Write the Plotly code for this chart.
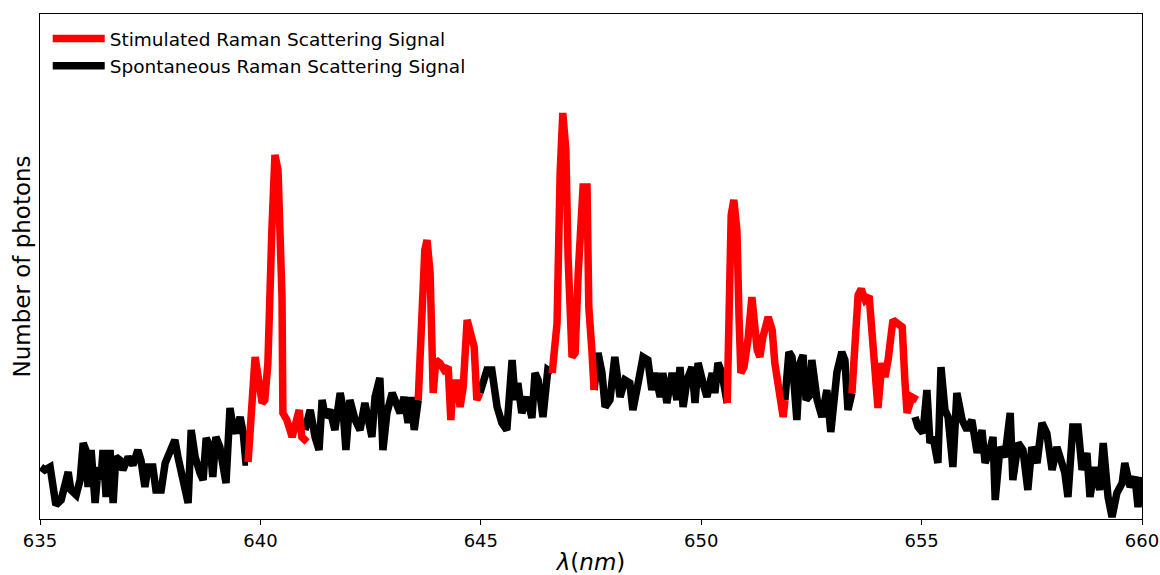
import plotly.graph_objects as go

# ---- data: wavelength (nm) and photon counts (arb. units) ----
# Spontaneous Raman scattering signal (black) segments
spont_1_nm = [635.02, 635.11, 635.23, 635.29, 635.36, 635.48, 635.57, 635.64, 635.70, 635.82,
              635.91, 635.98, 636.04, 636.09, 636.16, 636.25, 636.32, 636.38, 636.43, 636.50,
              636.59, 636.66, 636.72, 636.81, 636.88, 637.00, 637.11, 637.22, 637.29, 637.38,
              637.45, 637.56, 637.63, 637.75, 637.84, 637.95, 638.06, 638.13, 638.24, 638.36,
              638.43, 638.52, 638.63, 638.70, 638.77, 638.86, 638.92, 638.99, 639.08, 639.15,
              639.22, 639.31, 639.38, 639.45, 639.54, 639.61, 639.67, 639.72]
spont_1_cnt = [52, 49, 52, 32, 14, 19, 39, 47, 29, 24,
               39, 76, 69, 32, 69, 16, 52, 39, 69, 22,
               69, 16, 62, 59, 49, 62, 54, 69, 59, 32,
               52, 52, 29, 29, 56, 66, 79, 62, 39, 16,
               89, 62, 46, 39, 81, 72, 42, 82, 72, 49,
               36, 111, 92, 86, 102, 86, 57, 57]

spont_2_nm = [641.01, 641.13, 641.24, 641.33, 641.40, 641.47, 641.58, 641.69, 641.81, 641.87,
              641.94, 642.03, 642.15, 642.26, 642.37, 642.44, 642.53, 642.60, 642.71, 642.78,
              642.87, 642.99, 643.10, 643.17, 643.26, 643.35, 643.42, 643.49, 643.58]
spont_2_cnt = [89, 109, 82, 69, 119, 102, 109, 89, 126, 112,
               69, 119, 99, 89, 116, 102, 82, 122, 141, 69,
               106, 126, 116, 106, 122, 96, 122, 89, 119]

spont_3_nm = [644.98, 645.14, 645.25, 645.37, 645.48, 645.59, 645.71, 645.78, 645.84, 645.93,
              646.05, 646.16, 646.23, 646.30, 646.41, 646.52, 646.62]
spont_3_cnt = [126, 149, 149, 112, 96, 89, 159, 119, 136, 106,
               122, 101, 146, 139, 102, 149, 146]

spont_4_nm = [647.57, 647.66, 647.75, 647.82, 647.93, 648.04, 648.16, 648.27, 648.38, 648.45,
              648.57, 648.68, 648.79, 648.88, 648.95, 649.07, 649.13, 649.22, 649.34, 649.45,
              649.52, 649.59, 649.68, 649.79, 649.86, 649.93, 650.04, 650.13, 650.25, 650.31,
              650.38, 650.47, 650.59]
spont_4_cnt = [129, 166, 146, 112, 119, 162, 122, 139, 136, 109,
               136, 162, 159, 129, 146, 122, 146, 116, 146, 119,
               152, 112, 139, 152, 116, 156, 136, 122, 146, 126,
               156, 146, 116]

spont_5_nm = [651.90, 651.99, 652.06, 652.17, 652.24, 652.31, 652.38, 652.47, 652.51, 652.63,
              652.74, 652.85, 652.94, 653.08, 653.19, 653.26, 653.33, 653.42]
spont_5_cnt = [119, 167, 162, 99, 156, 164, 119, 124, 159, 119,
               102, 129, 87, 147, 167, 159, 109, 126]

spont_6_nm = [654.85, 654.92, 655.03, 655.12, 655.19, 655.26, 655.37, 655.44, 655.53, 655.60,
              655.71, 655.80, 655.92, 656.03, 656.14, 656.26, 656.37, 656.44, 656.55, 656.62,
              656.67, 656.78, 656.89, 657.01, 657.07, 657.19, 657.30, 657.41, 657.50, 657.62,
              657.73, 657.84, 657.96, 658.07, 658.14, 658.25, 658.32, 658.43, 658.55, 658.64,
              658.75, 658.82, 658.93, 659.04, 659.12, 659.23, 659.32, 659.43, 659.55, 659.61,
              659.73, 659.84, 659.91, 659.98]
spont_6_cnt = [102, 92, 86, 129, 76, 82, 56, 152, 109, 102,
               52, 126, 99, 89, 99, 66, 89, 56, 69, 82,
               19, 72, 62, 106, 39, 76, 69, 29, 72, 56,
               96, 86, 49, 72, 62, 46, 22, 92, 92, 49,
               66, 22, 52, 29, 76, 22, 2, 26, 36, 56,
               32, 42, 12, 42]

# Stimulated Raman scattering signal (red) segments
stim_1_nm = [639.72, 639.81, 639.88, 639.95, 640.04, 640.10, 640.17, 640.26, 640.33, 640.40,
             640.49, 640.51, 640.60, 640.72, 640.79, 640.88, 640.94, 641.06]
stim_1_cnt = [57, 112, 162, 142, 116, 119, 156, 289, 364, 349,
              222, 106, 99, 82, 96, 109, 82, 77]

stim_2_nm = [643.58, 643.67, 643.73, 643.78, 643.85, 643.92, 643.98, 644.07, 644.17, 644.26,
             644.32, 644.37, 644.46, 644.53, 644.60, 644.69, 644.78, 644.85, 644.91, 644.98]
stim_2_cnt = [119, 222, 269, 279, 246, 126, 159, 156, 149, 152,
              99, 136, 136, 112, 132, 199, 182, 172, 119, 126]

stim_3_nm = [646.62, 646.73, 646.80, 646.86, 646.93, 646.98, 647.07, 647.14, 647.21, 647.32,
             647.41, 647.45, 647.52, 647.57]
stim_3_cnt = [146, 196, 346, 406, 369, 262, 162, 166, 246, 332,
              332, 212, 169, 129]

stim_4_nm = [650.59, 650.63, 650.68, 650.74, 650.81, 650.86, 650.90, 650.97, 651.06, 651.15,
             651.22, 651.27, 651.33, 651.40, 651.52, 651.61, 651.67, 651.76, 651.86, 651.90]
stim_4_cnt = [116, 219, 304, 319, 289, 199, 146, 152, 179, 222,
              189, 169, 162, 182, 202, 189, 156, 129, 102, 119]

stim_5_nm = [653.42, 653.49, 653.56, 653.63, 653.72, 653.81, 653.88, 653.94, 654.01, 654.10,
             654.17, 654.24, 654.35, 654.44, 654.56, 654.62, 654.67, 654.78, 654.90]
stim_5_cnt = [126, 182, 224, 230, 219, 223, 182, 149, 111, 156,
              142, 159, 199, 196, 192, 139, 106, 122, 119]

x_ticks = [635, 640, 645, 650, 655, 660]
x_range = [635, 660]
y_range = [0, 505]

spont_segments = [(spont_1_nm, spont_1_cnt), (spont_2_nm, spont_2_cnt), (spont_3_nm, spont_3_cnt),
                  (spont_4_nm, spont_4_cnt), (spont_5_nm, spont_5_cnt), (spont_6_nm, spont_6_cnt)]
stim_segments = [(stim_1_nm, stim_1_cnt), (stim_2_nm, stim_2_cnt), (stim_3_nm, stim_3_cnt),
                 (stim_4_nm, stim_4_cnt), (stim_5_nm, stim_5_cnt)]


def join(segments):
    xs, ys = [], []
    for sx, sy in segments:
        xs += list(sx) + [None]
        ys += list(sy) + [None]
    return xs, ys


bx, by = join(spont_segments)
rx, ry = join(stim_segments)

fig = go.Figure()
fig.add_trace(go.Scatter(x=bx, y=by, mode="lines", name="Spontaneous Raman Scattering Signal",
                         line=dict(color="black", width=7.5), legendrank=2, connectgaps=False))
fig.add_trace(go.Scatter(x=rx, y=ry, mode="lines", name="Stimulated Raman Scattering Signal",
                         line=dict(color="red", width=7.5), legendrank=1, connectgaps=False))

font_family = "DejaVu Sans"
fig.update_layout(
    width=1160, height=575,
    margin=dict(l=40, r=18, t=14, b=56),
    paper_bgcolor="white", plot_bgcolor="white",
    font=dict(family=font_family, color="black", size=18),
    showlegend=True,
    legend=dict(x=0.007, y=0.988, xanchor="left", yanchor="top",
                bgcolor="rgba(255,255,255,0)", font=dict(size=18.5, family=font_family),
                itemwidth=52, tracegroupgap=0),
)
fig.update_xaxes(range=x_range, tickvals=x_ticks, ticktext=[str(t) for t in x_ticks],
                 ticks="outside", ticklen=5, tickwidth=1, tickcolor="black",
                 showline=True, linecolor="black", linewidth=1.2, mirror=True,
                 showgrid=False, zeroline=False, tickfont=dict(size=18), automargin=False,
                 title=dict(text="<i>λ</i>(<i>nm</i>)", font=dict(size=23), standoff=5))
fig.update_yaxes(range=y_range, showticklabels=False, ticks="",
                 showline=True, linecolor="black", linewidth=1.2, mirror=True,
                 showgrid=False, zeroline=False, automargin=False,
                 title=dict(text="Number of photons", font=dict(size=23), standoff=1))

fig.write_html("out.html", config={"displayModeBar": False},
               post_script="document.body.style.margin='0';document.body.style.overflow='hidden';")
